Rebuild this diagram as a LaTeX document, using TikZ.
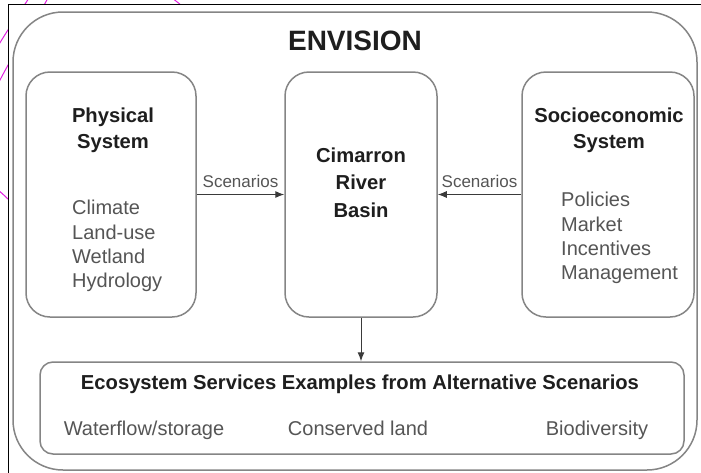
\documentclass[tikz,border=0pt]{standalone}
\usepackage{fontspec}
\setmainfont{Liberation Sans}
\usetikzlibrary{arrows.meta}

\definecolor{boxline}{HTML}{858585}
\definecolor{heading}{HTML}{1E1E1E}
\definecolor{bodytext}{HTML}{555555}
\definecolor{arrowcol}{HTML}{3A3A3A}
\definecolor{penpink}{HTML}{E020E0}

\begin{document}
\begin{tikzpicture}[x=1pt,y=-1pt,
  panel/.style={draw=boxline, line width=1.5pt, rounded corners=#1, inner sep=0pt},
  panel/.default=24pt,
  head/.style={font=\fontsize{20.2}{26}\selectfont\bfseries, text=heading, align=center, inner sep=0pt},
  items/.style={font=\fontsize{20}{24.3}\selectfont, text=bodytext, align=left, inner sep=0pt, anchor=west},
  example/.style={font=\fontsize{20}{24}\selectfont, text=bodytext, inner sep=0pt, text height=14.5pt, text depth=4pt},
  flow/.style={draw=arrowcol, line width=1pt, -{Latex[length=9pt,width=7pt]}},
  lbl/.style={font=\fontsize{17}{20}\selectfont, text=bodytext, inner sep=0pt},
  penstroke/.style={draw=penpink, line width=1pt}
]
\useasboundingbox (0,0) rectangle (701,472);

% stray pen strokes in the margin, partly covered by the sheet
\draw[penstroke] (29,-2) .. controls (20,12) and (10,26) .. (-2,46);
\draw[penstroke] (48,-2) .. controls (35,22) and (15,50) .. (-2,84);
\draw[penstroke] (172,-2) .. controls (176,1) and (180,4) .. (184,8);
\draw[penstroke] (-2,190) .. controls (3,194) and (7,198) .. (12,203);

% sheet with its top and left edges
\fill[white] (8,4) rectangle (703,474);
\draw[black, line width=1pt] (8,474) -- (8,4) -- (703,4);

% outer frame and title
\node[panel=50pt, minimum width=684pt, minimum height=458pt] (frame) at (355,241) {};
\node[font=\fontsize{28}{32}\selectfont\bfseries, text=heading, inner sep=0pt] (title) at (355,41) {ENVISION};

% three system panels
\node[panel, minimum width=170pt, minimum height=245pt] (phys) at (111,194.5) {};
\node[panel, minimum width=152pt, minimum height=245pt] (basin) at (361,194.5) {};
\node[panel, minimum width=172pt, minimum height=245pt] (socio) at (608,194.5) {};

\node[head] (physhead) at (113,130) {Physical\\System};
\node[items] (physitems) at (72,246) {Climate\\Land-use\\Wetland\\Hydrology};

\node[head, font=\fontsize{20.2}{27.5}\selectfont\bfseries] (basinhead) at (361,182.5) {Cimarron\\River\\Basin};

\node[head] (sociohead) at (609,130) {Socioeconomic\\System};
\node[items] (socioitems) at (561,238) {Policies\\Market\\Incentives\\Management};

% ecosystem services panel
\node[panel=13pt, minimum width=644pt, minimum height=92pt] (eco) at (362,408) {};
\node[head] (ecohead) at (360,384) {Ecosystem Services Examples from Alternative Scenarios};
\node[example] (ex1) at (144,430) {Waterflow/storage};
\node[example] (ex2) at (358,430) {Conserved land};
\node[example] (ex3) at (597,430) {Biodiversity};

% connectors
\draw[flow] (phys.east) -- node[lbl, midway, above=6pt] (scenleft) {Scenarios} (basin.west);
\draw[flow] (socio.west) -- node[lbl, midway, above=6pt] (scenright) {Scenarios} (basin.east);
\draw[flow] (basin.south) -- (basin.south |- eco.north);
\end{tikzpicture}
\end{document}
